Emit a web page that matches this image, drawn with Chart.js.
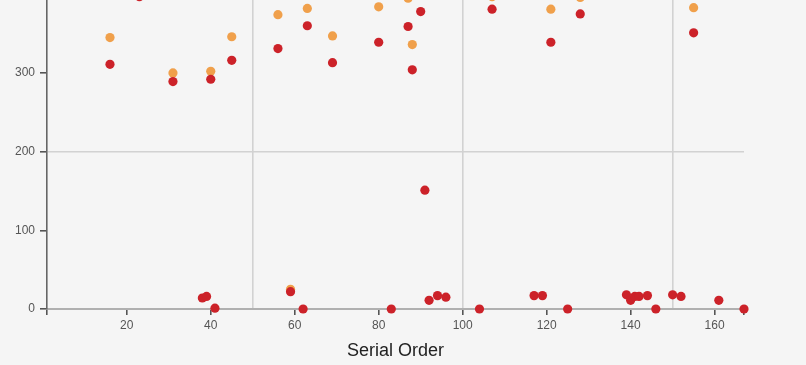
<!DOCTYPE html>
<html>
<head>
<meta charset="utf-8">
<script src="https://cdn.jsdelivr.net/npm/chart.js@4"></script>
<style>
html,body{margin:0;padding:0;background:#f5f5f5;}
#wrap{width:806px;height:365px;}
</style>
</head>
<body>
<div id="wrap"><canvas id="c" width="806" height="365"></canvas></div>
<script>
// Red series (drawn on top)
const redX = [16, 23, 31, 38, 39, 40, 41, 45, 56, 59, 62, 63, 69, 80, 83, 87, 88, 90, 91, 92, 94, 96, 104, 107, 117, 119, 121, 125, 128, 139, 140, 141, 142, 144, 146, 150, 152, 155, 161, 167];
const redY = [311, 397, 289, 14, 16, 292, 1, 316, 331, 22, 0, 360, 313, 339, 0, 359, 304, 378, 151, 11, 17, 15, 0, 381, 17, 17, 339, 0, 375, 18, 11, 16, 16, 17, 0, 18, 16, 351, 11, 0];
// Orange series
const orangeX = [16, 31, 40, 45, 56, 59, 63, 69, 80, 87, 88, 107, 121, 128, 155];
const orangeY = [345, 300, 302, 346, 374, 25, 382, 347, 384, 395, 336, 397, 381, 396, 383];
// Axis ticks
const xTickValues = [1, 20, 40, 50, 60, 80, 100, 120, 140, 150, 160, 167];
const xGridValues = [50, 100, 150];
const yTickValues = [0, 100, 200, 300];
const yGridValues = [200];

const toPts = (xs, ys) => xs.map((x, i) => ({x: x, y: ys[i]}));

new Chart(document.getElementById('c'), {
  type: 'scatter',
  data: {
    datasets: [
      {label: 'red', data: toPts(redX, redY), backgroundColor: '#cc2229', pointRadius: 4.6, pointHoverRadius: 4.6, borderWidth: 0, clip: false},
      {label: 'orange', data: toPts(orangeX, orangeY), backgroundColor: '#f0a04b', pointRadius: 4.6, pointHoverRadius: 4.6, borderWidth: 0, clip: false}
    ]
  },
  options: {
    responsive: false,
    animation: false,
    events: [],
    layout: {autoPadding: false, padding: {top: 0, right: 62, left: 0, bottom: 0}},
    plugins: {legend: {display: false}, tooltip: {enabled: false}},
    scales: {
      x: {
        type: 'linear', min: 1, max: 167,
        afterBuildTicks: s => { s.ticks = xTickValues.map(v => ({value: v})); },
        afterFit: s => { s.height = 56; s.paddingLeft = 0; s.paddingRight = 0; },
        ticks: {
          autoSkip: false, maxRotation: 0, padding: 3,
          color: '#555', font: {family: 'Liberation Sans, Arial, sans-serif', size: 12},
          callback: v => (v % 20 === 0 ? String(v) : '')
        },
        grid: {
          color: c => (c.tick && xGridValues.includes(c.tick.value)) ? '#d2d2d2' : 'rgba(0,0,0,0)',
          lineWidth: 1.6,
          tickColor: c => (c.tick && (c.tick.value % 20 === 0 || c.tick.value === 1 || c.tick.value === 167)) ? '#555' : 'rgba(0,0,0,0)',
          tickWidth: 1.6,
          tickLength: 6
        },
        border: {display: true, color: '#b0b0b0', width: 2},
        title: {display: true, text: 'Serial Order', color: '#222', padding: {top: 0, bottom: 3},
          font: {family: 'Liberation Sans, Arial, sans-serif', size: 18}}
      },
      y: {
        type: 'linear', min: 0, max: 392.7,
        afterBuildTicks: s => { s.ticks = yTickValues.map(v => ({value: v})); },
        afterFit: s => { s.width = 47; s.paddingTop = 0; s.paddingBottom = 0; },
        ticks: {
          padding: 5, color: '#555', font: {family: 'Liberation Sans, Arial, sans-serif', size: 12}
        },
        grid: {
          color: c => (c.tick && yGridValues.includes(c.tick.value)) ? '#d2d2d2' : 'rgba(0,0,0,0)',
          lineWidth: 1.6,
          tickColor: '#555',
          tickWidth: 1.6,
          tickLength: 7
        },
        border: {display: true, color: '#666', width: 1.6}
      }
    }
  }
});
</script>
</body>
</html>
